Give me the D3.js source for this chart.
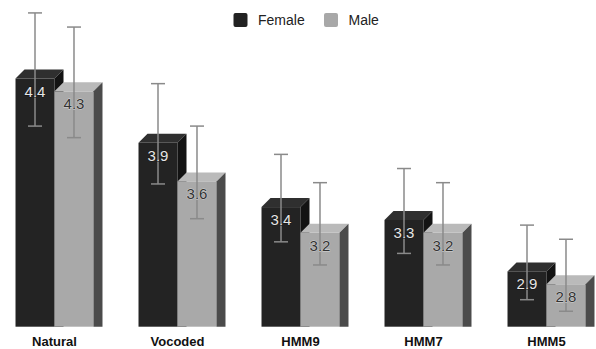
<!DOCTYPE html>
<html>
<head>
<meta charset="utf-8">
<script src="https://cdn.jsdelivr.net/npm/d3@7"></script>
<style>
  body { margin: 0; background: #fff; }
  text { font-family: "Liberation Sans", Arial, sans-serif; }
</style>
</head>
<body>
<div id="container"></div>
<script>
const categories = ["Natural", "Vocoded", "HMM9", "HMM7", "HMM5"];
const series = ["Female", "Male"];
const femaleValues = [4.4, 3.9, 3.4, 3.3, 2.9];
const maleValues = [4.3, 3.6, 3.2, 3.2, 2.8];
const femaleErr = [0.44, 0.39, 0.34, 0.33, 0.29];
const maleErr = [0.43, 0.36, 0.32, 0.32, 0.28];

const width = 596, height = 349;
const base = 326.7;
const dx = 9, dy = 9;

const colors = {
    Female: { front: "#232323", top: "#2f2f2f", side: "#131313", label: "#e6e6e6" },
    Male: { front: "#a9a9a9", top: "#bababa", side: "#4b4b4b", label: "#333" }
};

const svg = d3.select("#container")
    .append("svg")
    .attr("width", width)
    .attr("height", height);

const x = d3.scaleBand()
    .domain(categories)
    .range([-7, 608])
    .paddingInner(0.366)
    .paddingOuter(0.183);

const xSub = d3.scaleBand()
    .domain(series)
    .range([0, x.bandwidth()]);

const y = d3.scaleLinear()
    .domain([2.47, 4.4])
    .range([base, 78.5]);

const data = [];
categories.forEach((c, i) => {
    data.push({ cat: c, s: "Female", v: femaleValues[i], e: femaleErr[i] });
    data.push({ cat: c, s: "Male", v: maleValues[i], e: maleErr[i] });
});

const bars = svg.append("g").selectAll("g")
    .data(data)
    .join("g");

bars.each(function(d) {
    const g = d3.select(this);
    const x0 = x(d.cat) + xSub(d.s);
    const x1 = x0 + xSub.bandwidth();
    const y0 = y(d.v);
    const c = colors[d.s];
    g.append("rect")
        .attr("x", x0).attr("y", y0)
        .attr("width", x1 - x0).attr("height", base - y0)
        .attr("fill", c.front);
    g.append("polygon")
        .attr("points", [[x0, y0], [x0 + dx, y0 - dy], [x1 + dx, y0 - dy], [x1, y0]].join(" "))
        .attr("fill", c.top);
    g.append("polygon")
        .attr("points", [[x1, y0], [x1 + dx, y0 - dy], [x1 + dx, base], [x1, base]].join(" "))
        .attr("fill", c.side);
});

// error bars
const err = svg.append("g")
    .attr("stroke", "#8a8a8a")
    .attr("stroke-width", 1.5);

data.forEach(d => {
    const cx = x(d.cat) + xSub(d.s) + xSub.bandwidth() / 2;
    const yTop = y(d.v + d.e) - dy;
    const yBot = y(d.v - d.e) - dy;
    err.append("line").attr("x1", cx).attr("x2", cx).attr("y1", yTop).attr("y2", yBot);
    err.append("line").attr("x1", cx - 7).attr("x2", cx + 7).attr("y1", yTop).attr("y2", yTop);
    err.append("line").attr("x1", cx - 7).attr("x2", cx + 7).attr("y1", yBot).attr("y2", yBot);
});

// value labels, on top of the error bars
svg.append("g").selectAll("text")
    .data(data)
    .join("text")
    .attr("x", d => x(d.cat) + xSub(d.s) + xSub.bandwidth() / 2)
    .attr("y", d => y(d.v) + 18)
    .attr("text-anchor", "middle")
    .attr("font-size", 15)
    .attr("fill", d => colors[d.s].label)
    .attr("stroke", d => d.s === "Male" ? "#d8d8d8" : "#111")
    .attr("stroke-width", 0.8)
    .attr("paint-order", "stroke")
    .text(d => d.v.toFixed(1));

// category labels
svg.append("g").selectAll("text")
    .data(categories)
    .join("text")
    .attr("x", d => x(d) + x.bandwidth() / 2)
    .attr("y", 345.5)
    .attr("text-anchor", "middle")
    .attr("font-size", 13)
    .attr("font-weight", "bold")
    .attr("fill", "#111")
    .text(d => d);

// legend
const legend = svg.append("g");
const legendX = [233.5, 324];
series.forEach((s, i) => {
    legend.append("rect")
        .attr("x", legendX[i]).attr("y", 13)
        .attr("width", 14).attr("height", 14)
        .attr("rx", 2)
        .attr("fill", s === "Female" ? "#222" : "#a8a8a8");
    legend.append("text")
        .attr("x", legendX[i] + 24.5)
        .attr("y", 25)
        .attr("font-size", 14)
        .attr("fill", "#222")
        .text(s);
});
</script>
</body>
</html>
